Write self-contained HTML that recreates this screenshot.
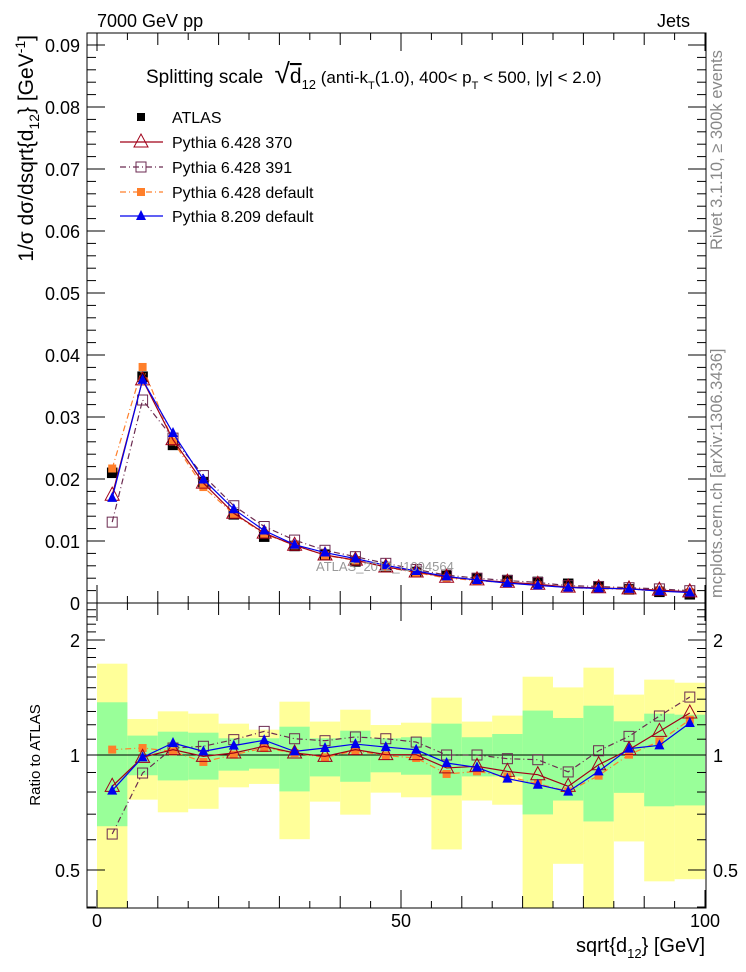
<!DOCTYPE html>
<html><head><meta charset="utf-8"><style>
body{margin:0;background:#fff;}
svg{display:block;font-family:"Liberation Sans",sans-serif;}
</style></head><body>
<svg id="c" width="746" height="972" viewBox="0 0 746 972">
<g id="bands"></g>
<g id="axes"></g>
<g id="series"></g>
<text x="97" y="27" font-size="18">7000 GeV pp</text>
<text x="690" y="27" font-size="18" text-anchor="end">Jets</text>
<text x="146" y="83" font-size="19">Splitting scale <tspan font-size="28" dx="6">√</tspan><tspan font-size="21" text-decoration="overline">d</tspan><tspan font-size="13" dy="6">12</tspan><tspan font-size="17" dy="-6"> (anti-k</tspan><tspan font-size="11" dy="6">T</tspan><tspan font-size="17" dy="-6">(1.0), 400&lt; p</tspan><tspan font-size="11" dy="6">T</tspan><tspan font-size="17" dy="-6"> &lt; 500, |y| &lt; 2.0)</tspan></text>
<g id="legend"></g>
<text transform="translate(33,35) rotate(-90)" font-size="21" text-anchor="end">1/σ dσ/dsqrt{d<tspan font-size="14" dy="6">12</tspan><tspan dy="-6">} [GeV</tspan><tspan font-size="14" dy="-8">-1</tspan><tspan dy="8">]</tspan></text>
<text transform="translate(40,755) rotate(-90)" font-size="15" text-anchor="middle">Ratio to ATLAS</text>
<text x="705" y="952" font-size="20" text-anchor="end">sqrt{d<tspan font-size="13" dy="6">12</tspan><tspan dy="-6">} [GeV]</tspan></text>
<text transform="translate(722,250) rotate(-90)" font-size="16.5" fill="#888" text-anchor="start">Rivet 3.1.10, ≥ 300k events</text>
<text transform="translate(722,598) rotate(-90)" font-size="16.5" fill="#888" text-anchor="start">mcplots.cern.ch [arXiv:1306.3436]</text>
<text x="316" y="571" font-size="13" fill="#999">ATLAS_2012_I1094564</text>
</svg>
<script>
const binLow=[0,5,10,15,20,25,30,35,40,45,50,55,60,65,70,75,80,85,90,95];
const atlas=[0.021,0.0365,0.0255,0.0195,0.0143,0.0107,0.0092,0.0078,0.0067,0.0058,0.0050,0.0045,0.0040,0.0037,0.0034,0.0031,0.0026,0.0022,0.0018,0.0014];
const r370=[0.828,0.986,1.033,0.992,1.012,1.054,1.012,0.992,1.033,1.002,1.002,0.925,0.934,0.906,0.888,0.828,0.943,1.033,1.153,1.288];
const r391=[0.621,0.897,1.043,1.054,1.097,1.153,1.103,1.090,1.115,1.103,1.081,1.0,1.0,0.978,0.972,0.903,1.026,1.119,1.265,1.418];
const rdef=[1.033,1.043,1.022,0.959,1.002,1.043,1.012,0.986,1.026,0.996,0.982,0.892,0.906,0.879,0.841,0.803,0.883,1.002,1.086,1.237];
const r8=[0.807,0.986,1.075,1.022,1.058,1.093,1.022,1.043,1.068,1.049,1.032,0.953,0.928,0.867,0.836,0.802,0.906,1.039,1.060,1.213];
const gHi=[1.374,1.124,1.151,1.144,1.106,1.106,1.186,1.106,1.158,1.106,1.113,1.208,1.113,1.135,1.307,1.250,1.346,1.225,1.283,1.275];
const gLo=[0.651,0.885,0.858,0.862,0.910,0.921,0.803,0.879,0.851,0.901,0.888,0.784,0.879,0.879,0.699,0.760,0.670,0.796,0.734,0.738];
const yHi=[1.734,1.242,1.301,1.283,1.208,1.165,1.379,1.223,1.314,1.198,1.215,1.413,1.223,1.268,1.603,1.503,1.693,1.439,1.575,1.546];
const yLo=[0.3,0.764,0.708,0.723,0.823,0.840,0.602,0.755,0.698,0.797,0.775,0.566,0.760,0.741,0.3,0.519,0.3,0.594,0.467,0.473];
const yTicks=["0","0.01","0.02","0.03","0.04","0.05","0.06","0.07","0.08","0.09"];
const xTicks=[0,50,100];
const rTicks=[0.5,1,2];

const NS="http://www.w3.org/2000/svg";
const X=v=>97+6.08*v, Y=v=>603-6200*v, R=r=>755-115*Math.log2(r);
const L=87,Rt=706,T=33,M=603,B=908;
function mk(tag,attrs,par){const e=document.createElementNS(NS,tag);for(const k in attrs)e.setAttribute(k,attrs[k]);par.appendChild(e);return e;}
const bands=document.getElementById('bands'),axes=document.getElementById('axes'),ser=document.getElementById('series'),leg=document.getElementById('legend');
const clip=mk('clipPath',{id:'rc'},mk('defs',{},document.getElementById('c')));
mk('rect',{x:L,y:M,width:Rt-L,height:B-M},clip);
const clip2=mk('clipPath',{id:'mc'},document.querySelector('defs'));
mk('rect',{x:L,y:T,width:Rt-L,height:M-T},clip2);
bands.setAttribute('clip-path','url(#rc)');
binLow.forEach((b,i)=>{
 const x0=X(b),x1=X(b+5);
 const a=mk('rect',{x:x0,y:R(yHi[i]),width:x1-x0,height:R(yLo[i])-R(yHi[i]),fill:'#ffff99'},bands);
 
 
 const g=mk('rect',{x:x0,y:R(gHi[i]),width:x1-x0,height:R(gLo[i])-R(gHi[i]),fill:'#99ff99'},bands);
 
 
});
mk('rect',{x:L,y:T,width:Rt-L,height:M-T,fill:'none',stroke:'#000','stroke-width':1},axes);
mk('rect',{x:L,y:M,width:Rt-L,height:B-M,fill:'none',stroke:'#000','stroke-width':1},axes);
mk('line',{x1:L,x2:Rt,y1:R(1),y2:R(1),stroke:'#000'},axes);
for(let v=0;v<=100;v+=5){const len=v%50==0?18:(v%10==0?12:7);const x=X(v);
 [[M,-1],[T,1],[B,-1],[M,1]].forEach(([y,d])=>mk('line',{x1:x,x2:x,y1:y,y2:y+d*len,stroke:'#000'},axes));}
xTicks.forEach(v=>{const t=mk('text',{x:X(v),y:927,'font-size':18,'text-anchor':'middle'},axes);t.textContent=v;
 
 });
for(let k=0;k<=46;k++){const v=k*0.002;const y=Y(v);if(y<T)break;const len=k%5==0?18:9;
 mk('line',{x1:L,x2:L+len,y1:y,y2:y,stroke:'#000'},axes);mk('line',{x1:Rt,x2:Rt-len,y1:y,y2:y,stroke:'#000'},axes);}
yTicks.forEach((s,i)=>{const t=mk('text',{x:80,y:Y(i*0.01)+7,'font-size':18,'text-anchor':'end'},axes);t.textContent=s;
 
 });
[0.4,0.5,0.6,0.7,0.8,0.9,1,1.1,1.2,1.3,1.4,1.5,1.6,1.7,1.8,1.9,2,2.1,2.2,2.3,2.4].forEach(v=>{const y=R(v);const len=rTicks.includes(v)?18:9;
 mk('line',{x1:L,x2:L+len,y1:y,y2:y,stroke:'#000'},axes);mk('line',{x1:Rt,x2:Rt-len,y1:y,y2:y,stroke:'#000'},axes);});
rTicks.forEach(v=>{[[80,'end'],[713,'start']].forEach(([x,a])=>{const t=mk('text',{x:x,y:R(v)+7,'font-size':18,'text-anchor':a},axes);t.textContent=v;
 
 });});
function marker(type,color,x,y,par,s){s=s||1;
 if(type=='sq')return mk('rect',{x:x-5*s,y:y-5*s,width:10*s,height:10*s,fill:color},par);
 if(type=='osq')return mk('rect',{x:x-5*s,y:y-5*s,width:10*s,height:10*s,fill:'none',stroke:color},par);
 if(type=='fsq')return mk('rect',{x:x-4*s,y:y-4*s,width:8*s,height:8*s,fill:color},par);
 if(type=='otri')return mk('polygon',{points:`${x-7},${y+5} ${x+7},${y+5} ${x},${y-8}`,fill:'none',stroke:color},par);
 if(type=='tri')return mk('polygon',{points:`${x-5},${y+4} ${x+5},${y+4} ${x},${y-6}`,fill:color},par);}
const models=[
 {r:r391,c:'#6b2a50',m:'osq',d:'6,3,1,3',n:'pythia6-391'},
 {r:rdef,c:'#ff7f2a',m:'fsq',d:'6,3,1,3',n:'pythia6-default'},
 {r:r370,c:'#a00018',m:'otri',d:'',n:'pythia6-370'},
 {r:r8,c:'#0000ee',m:'tri',d:'',n:'pythia8-default'}];
const mg=mk('g',{'clip-path':'url(#mc)'},ser),rg=mk('g',{'clip-path':'url(#rc)'},ser);
binLow.forEach((b,i)=>{const e=marker('sq','#000',X(b+2.5),Y(atlas[i]),mg,1.05);
 
 });
models.forEach(md=>{
 const pm=binLow.map((b,i)=>X(b+2.5)+','+Y(atlas[i]*md.r[i])).join(' ');
 const pr=binLow.map((b,i)=>X(b+2.5)+','+R(md.r[i])).join(' ');
 const a=mk('polyline',{points:pm,fill:'none',stroke:md.c,'stroke-width':1.2,'stroke-dasharray':md.d},mg);
 
 
 const b2=mk('polyline',{points:pr,fill:'none',stroke:md.c,'stroke-width':1.2,'stroke-dasharray':md.d},rg);
 
 
 binLow.forEach((b,i)=>{
  const e=marker(md.m,md.c,X(b+2.5),Y(atlas[i]*md.r[i]),mg);
  
  
  const f=marker(md.m,md.c,X(b+2.5),R(md.r[i]),rg);
  
  });
});
const legItems=[{t:'ATLAS',m:'sq',c:'#000',d:null},{t:'Pythia 6.428 370',m:'otri',c:'#a00018',d:''},{t:'Pythia 6.428 391',m:'osq',c:'#6b2a50',d:'6,3,1,3'},{t:'Pythia 6.428 default',m:'fsq',c:'#ff7f2a',d:'6,3,1,3'},{t:'Pythia 8.209 default',m:'tri',c:'#0000ee',d:''}];
const legY=[117,142,167,192,216];
legItems.forEach((it,i)=>{const g=mk('g',{},leg);
 
 
 if(it.d!==null)mk('line',{x1:120,x2:163,y1:legY[i],y2:legY[i],stroke:it.c,'stroke-width':1.2,'stroke-dasharray':it.d},g);
 marker(it.m,it.c,141,legY[i],g,it.m=='sq'?0.8:1);
 const t=mk('text',{x:172,y:legY[i]+6,'font-size':16},g);t.textContent=it.t;});
</script>
</body></html>
